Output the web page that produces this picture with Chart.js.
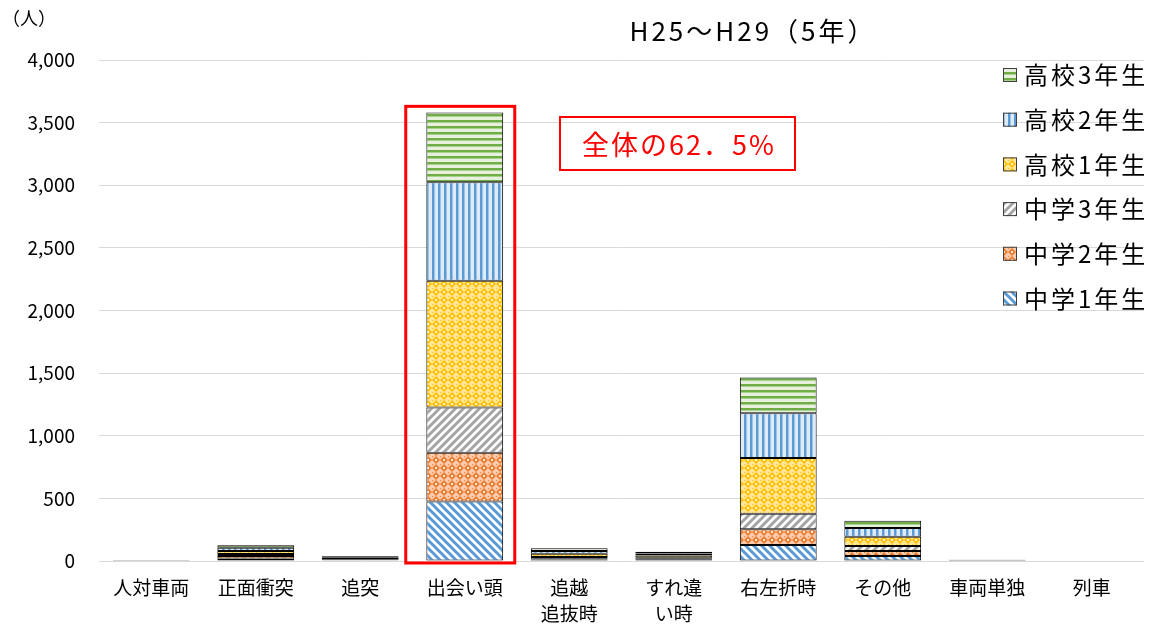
<!DOCTYPE html>
<html>
<head>
<meta charset="utf-8">
<script src="https://cdn.jsdelivr.net/npm/chart.js@4"></script>
<style>
  html, body { margin: 0; padding: 0; background: #fff; }
  #wrap { position: relative; width: 1150px; height: 624px; }
</style>
</head>
<body>
<div id="wrap"><canvas id="my-chart" width="1150" height="624"></canvas></div>
<script>
const categories = ["人対車両", "正面衝突", "追突", "出会い頭", ["追越", "追抜時"], ["すれ違", "い時"], "右左折時", "その他", "車両単独", "列車"];
const seriesNames = ["中学1年生", "中学2年生", "中学3年生", "高校1年生", "高校2年生", "高校3年生"];
const chu1 = [1, 20, 5, 475, 12, 10, 128, 40, 2, 0];
const chu2 = [1, 20, 5, 389, 10, 8, 125, 40, 2, 0];
const chu3 = [1, 15, 5, 362, 10, 8, 125, 40, 2, 0];
const kou1 = [1, 25, 10, 1011, 25, 18, 444, 74, 2, 0];
const kou2 = [1, 25, 8, 787, 22, 15, 357, 69, 1, 0];
const kou3 = [1, 20, 7, 556, 22, 15, 287, 59, 1, 0];
const yTicks = [0, 500, 1000, 1500, 2000, 2500, 3000, 3500, 4000];

const FONT = "'Noto Sans CJK JP', 'Noto Sans', sans-serif";

const makePattern = (w, h, draw) => {
    const c = document.createElement("canvas");
    c.width = w;
    c.height = h;
    const g = c.getContext("2d");
    draw(g, w, h);
    return g.createPattern(c, "repeat");
};

// horizontal green stripes
const patKou3 = makePattern(6, 6, (g) => {
    g.fillStyle = "#e6f0dc"; g.fillRect(0, 0, 6, 6);
    g.fillStyle = "#70ad47"; g.fillRect(0, 0, 6, 2);
    g.fillStyle = "#a9d18e"; g.fillRect(0, 2, 6, 1);
});
// vertical blue stripes
const patKou2 = makePattern(6, 6, (g) => {
    g.fillStyle = "#deebf7"; g.fillRect(0, 0, 6, 6);
    g.fillStyle = "#5b9bd5"; g.fillRect(0, 0, 2, 6);
    g.fillStyle = "#9dc3e6"; g.fillRect(2, 0, 1, 6);
});
// diamond lattice on colour
const lattice = (base, light) => makePattern(8, 8, (g) => {
    g.fillStyle = light; g.fillRect(0, 0, 8, 8);
    g.fillStyle = base;
    g.beginPath();
    g.moveTo(4, 0); g.lineTo(8, 4); g.lineTo(4, 8); g.lineTo(0, 4); g.closePath();
    g.fill();
    g.fillStyle = "rgba(255,255,255,0.85)";
    g.fillRect(3, 3, 2, 2);
    g.fillStyle = base;
    g.fillRect(0, 0, 1, 1);
});
const patKou1 = lattice("#ffc000", "#ffe699");
const patChu2 = lattice("#ed7d31", "#f8cbad");
// diagonal stripes
const diag = (col, up) => makePattern(8, 8, (g) => {
    g.fillStyle = "#fff"; g.fillRect(0, 0, 8, 8);
    g.strokeStyle = col; g.lineWidth = 3;
    g.beginPath();
    if (up) {
        g.moveTo(-1, 9); g.lineTo(9, -1);
        g.moveTo(-5, 5); g.lineTo(5, -5);
        g.moveTo(3, 13); g.lineTo(13, 3);
    } else {
        g.moveTo(-1, -1); g.lineTo(9, 9);
        g.moveTo(-5, 3); g.lineTo(5, 13);
        g.moveTo(3, -5); g.lineTo(13, 5);
    }
    g.stroke();
});
const patChu3 = diag("#a5a5a5", true);
const patChu1 = diag("#5b9bd5", false);

const seriesData = [chu1, chu2, chu3, kou1, kou2, kou3];
const seriesFill = [patChu1, patChu2, patChu3, patKou1, patKou2, patKou3];

const overlayPlugin = {
    id: "overlay",
    afterDraw(chart) {
        const ctx = chart.ctx;
        const x = chart.scales.x, y = chart.scales.y;
        ctx.save();

        // title
        ctx.fillStyle = "#000";
        ctx.font = "26px " + FONT;
        ctx.letterSpacing = "3px";
        ctx.textAlign = "center";
        ctx.textBaseline = "middle";
        ctx.fillText("H25〜H29（5年）", 753, 31);

        // unit
        ctx.letterSpacing = "0px";
        ctx.font = "18px " + FONT;
        ctx.textAlign = "left";
        ctx.fillText("（人）", 2, 18);

        // legend, top item = last dataset
        ctx.font = "24px " + FONT;
        ctx.letterSpacing = "3px";
        for (let i = 0; i < seriesNames.length; i++) {
            const idx = seriesNames.length - 1 - i;
            const cy = 75 + i * 44.7;
            ctx.fillStyle = seriesFill[idx];
            ctx.fillRect(1003, cy - 7, 14, 14);
            ctx.strokeStyle = "#404040";
            ctx.lineWidth = 1;
            ctx.strokeRect(1003.5, cy - 6.5, 13, 13);
            ctx.fillStyle = "#000";
            ctx.fillText(seriesNames[idx], 1024, cy);
        }

        // red frame round 出会い頭
        const cx = x.getPixelForValue(3);
        ctx.strokeStyle = "#ff0000";
        ctx.lineWidth = 3;
        ctx.strokeRect(cx - 59, y.getPixelForValue(3630), 109, y.getPixelForValue(0) - y.getPixelForValue(3630) + 2);

        // share box
        ctx.lineWidth = 2;
        ctx.strokeRect(560, 117, 235, 53);
        ctx.fillStyle = "#ff0000";
        ctx.font = "27px " + FONT;
        ctx.letterSpacing = "2px";
        ctx.textAlign = "center";
        ctx.fillText("全体の62．5%", 679, 145);
        ctx.restore();
    }
};

new Chart(document.getElementById("my-chart"), {
    type: "bar",
    data: {
        labels: categories,
        datasets: seriesNames.map((name, i) => ({
            label: name,
            data: seriesData[i],
            backgroundColor: seriesFill[i],
            borderColor: "#000",
            borderWidth: 1,
            borderSkipped: false,
            categoryPercentage: 1,
            barPercentage: 0.735,
        })),
    },
    options: {
        responsive: false,
        animation: false,
        layout: { padding: { top: 60, right: 6, left: 0, bottom: 0 } },
        plugins: {
            legend: { display: false },
            title: { display: false },
            tooltip: { enabled: false },
        },
        scales: {
            x: {
                stacked: true,
                grid: { display: false, drawTicks: false },
                border: { display: false },
                ticks: {
                    color: "#000",
                    font: { family: FONT, size: 19, lineHeight: 1.4 },
                    padding: 13,
                    maxRotation: 0,
                    autoSkip: false,
                },
                afterFit: (s) => { s.height = 63; },
            },
            y: {
                stacked: true,
                min: 0,
                max: 4000,
                afterBuildTicks: (s) => { s.ticks = yTicks.map((v) => ({ value: v })); },
                grid: { color: "#d9d9d9", drawTicks: false },
                border: { display: false },
                ticks: {
                    color: "#000",
                    font: { family: FONT, size: 19 },
                    padding: 24,
                    callback: (v) => v.toLocaleString("en-US"),
                },
                afterFit: (s) => { s.width = 99; },
            },
        },
    },
    plugins: [overlayPlugin],
});
</script>
</body>
</html>
